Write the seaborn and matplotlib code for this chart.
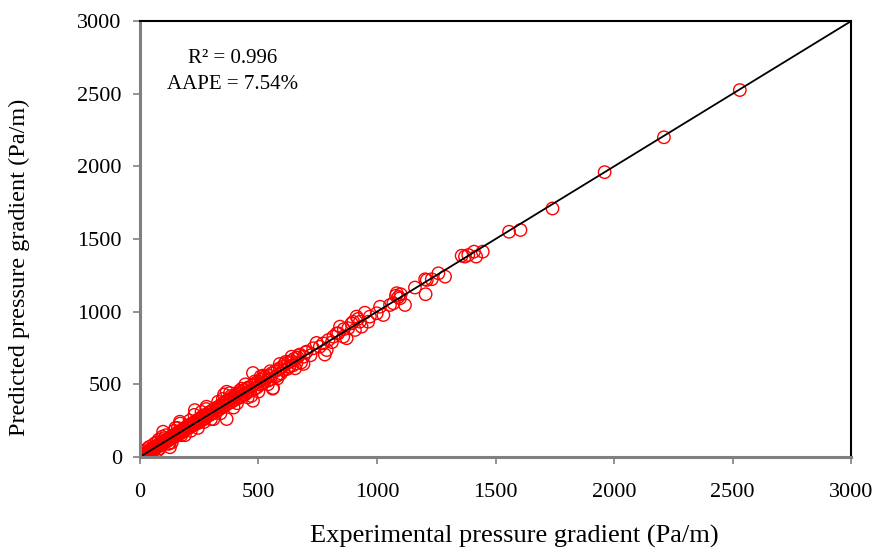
import numpy as np
import pandas as pd
import matplotlib
matplotlib.use("Agg")
import matplotlib.pyplot as plt
import seaborn as sns

# experimental vs predicted pressure gradient (Pa/m)
exp_low = [5, 8, 10, 12, 15, 18, 20, 22, 25, 28, 30, 32, 35, 38, 40, 42, 45, 48, 50, 52,
           55, 58, 60, 62, 65, 68, 70, 72, 75, 78, 80, 82, 85, 88, 90, 92, 95, 98,
           100, 103, 106, 110, 112, 115, 118, 120, 123, 126, 130, 133, 136, 140, 143, 146,
           150, 153, 156, 160, 163, 166, 170, 173, 176, 180, 183, 186, 190, 195,
           95, 120, 150, 170, 190, 80, 98, 127, 169, 30, 45, 60, 75, 110, 135, 160,
           20, 40, 55, 70, 85, 105, 125, 145, 175]
pred_low = [6, 7, 12, 10, 17, 16, 23, 20, 27, 25, 33, 30, 38, 35, 44, 39, 48, 45, 54, 49,
            59, 55, 64, 58, 70, 63, 75, 68, 80, 74, 86, 78, 90, 84, 96, 88, 101, 94,
            105, 98, 112, 115, 106, 122, 112, 128, 118, 134, 124, 140, 130, 148, 135, 155,
            145, 160, 150, 170, 155, 172, 162, 180, 168, 190, 175, 195, 182, 205,
            140, 90, 200, 230, 150, 120, 174, 67, 243, 55, 25, 90, 45, 150, 100, 200,
            40, 70, 35, 100, 60, 130, 95, 180, 150]

exp_mid = [200, 204, 208, 212, 216, 220, 225, 230, 235, 240, 245, 250, 255, 260, 265, 270,
           275, 280, 285, 290, 295, 230, 250, 280, 300, 260, 210, 232, 281, 215, 245, 270,
           300, 305, 310, 315, 320, 325, 330, 335, 340, 345, 350, 355, 360, 365, 370, 375,
           380, 385, 390, 395, 366, 366, 355, 340, 380, 330, 395, 310, 350, 385,
           400, 405, 410, 415, 420, 425, 430, 435, 440, 445, 450, 455, 460, 465, 477, 475,
           477, 485, 490, 495, 430, 470, 445, 485, 500, 410, 455, 420,
           500, 505, 510, 515, 520, 525, 530, 540, 545, 550, 555, 562, 570, 575, 580, 585,
           590, 595, 520, 560, 540, 590, 580, 510, 550,
           600, 605, 610, 620, 625, 630, 640, 645, 650, 660, 665, 670, 680, 690, 700,
           640, 690, 655, 615, 675]
pred_mid = [210, 198, 220, 205, 228, 215, 235, 222, 248, 230, 255, 262, 245, 275, 255, 285,
            268, 292, 280, 305, 290, 290, 240, 330, 260, 310, 250, 323, 346, 180, 200, 240,
            315, 298, 325, 305, 335, 320, 345, 330, 355, 340, 368, 350, 380, 360, 390, 372,
            398, 378, 410, 388, 449, 261, 430, 300, 440, 380, 340, 260, 400, 420,
            420, 398, 428, 405, 440, 415, 450, 425, 460, 432, 472, 445, 480, 455, 387, 490,
            578, 470, 510, 480, 470, 420, 500, 520, 450, 370, 410, 455,
            520, 498, 530, 505, 545, 515, 550, 525, 560, 535, 575, 475, 590, 555, 600, 565,
            610, 575, 560, 470, 500, 640, 540, 555, 590,
            620, 598, 640, 605, 650, 620, 660, 630, 675, 645, 685, 700, 650, 690, 720,
            690, 640, 610, 655, 705]

exp_high = [703, 720, 731, 745, 759, 773, 780, 788, 795, 810, 816, 830, 837, 844, 858, 860,
            872, 879, 893, 900, 907, 914, 920, 928, 935, 949, 963, 970, 999, 1013, 1027,
            1055, 1069, 1080, 1083, 1090, 1097, 1100, 1118, 1160, 1203, 1205, 1210, 1231,
            1259, 1287, 1357, 1371, 1385, 1409, 1418, 1446, 1557, 1605, 1740, 1960, 2210, 2530]
pred_high = [725, 700, 748, 785, 759, 782, 705, 736, 805, 790, 828, 850, 851, 897, 828, 880,
             817, 886, 920, 930, 874, 966, 950, 931, 897, 993, 931, 966, 989, 1034, 977,
             1046, 1058, 1110, 1127, 1100, 1092, 1120, 1046, 1166, 1223, 1120, 1218, 1223,
             1264, 1241, 1385, 1379, 1390, 1413, 1379, 1413, 1550, 1562, 1710, 1960, 2200, 2525]

ticks = [0, 500, 1000, 1500, 2000, 2500, 3000]

df = pd.DataFrame({
    "exp": exp_low + exp_mid + exp_high,
    "pred": pred_low + pred_mid + pred_high,
})

sns.set_style("white")
plt.rcParams["font.family"] = ["Liberation Serif", "DejaVu Serif"]
plt.rcParams["text.color"] = "black"
plt.rcParams["axes.labelcolor"] = "black"
plt.rcParams["xtick.color"] = "black"
plt.rcParams["ytick.color"] = "black"

fig = plt.figure(figsize=(8.74, 5.49), dpi=100)
ax = fig.add_axes([0.160, 0.1676, 0.814, 0.7941])

sns.lineplot(x=[0, 3000], y=[0, 3000], color="black", linewidth=1.3, ax=ax)
sns.scatterplot(data=df, x="exp", y="pred", ax=ax, marker="o", s=80,
                facecolors="none", edgecolors="red", linewidth=1.0)

ax.set_xlim(0, 3000)
ax.set_ylim(0, 3000)
ax.set_xticks(ticks)
ax.set_yticks(ticks)
ax.tick_params(bottom=True, left=True, direction="out", length=5, width=1.2,
               color="gray", labelcolor="black", labelsize=16)
ax.tick_params(axis="x", pad=14)
ax.tick_params(axis="y", pad=8)

for side in ["left", "bottom"]:
    ax.spines[side].set_color("gray")
    ax.spines[side].set_linewidth(2.2)
for side in ["top", "right"]:
    ax.spines[side].set_color("black")
    ax.spines[side].set_linewidth(1.5)

ax.set_xlabel("Experimental pressure gradient (Pa/m)", fontsize=19)
ax.set_ylabel("Predicted pressure gradient (Pa/m)", fontsize=17.5)
ax.xaxis.set_label_coords(0.526, -0.155)
ax.yaxis.set_label_coords(-0.155, 0.436)

ax.text(0.13, 0.915, "R² = 0.996", transform=ax.transAxes, ha="center", va="center",
        fontsize=15)
ax.text(0.13, 0.855, "AAPE = 7.54%", transform=ax.transAxes, ha="center", va="center",
        fontsize=15)

fig.savefig("out.png", dpi=100)
